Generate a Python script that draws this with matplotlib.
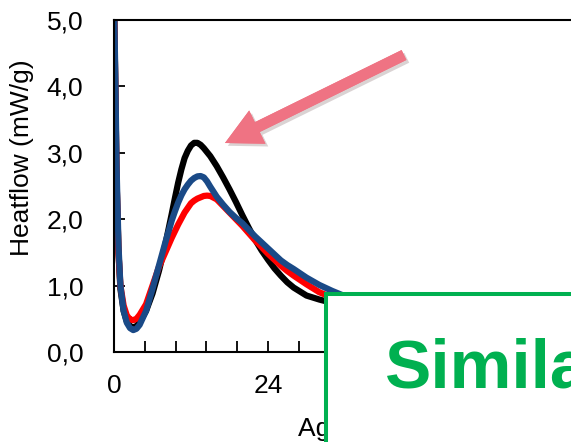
import matplotlib
matplotlib.use("Agg")
import matplotlib.pyplot as plt
import matplotlib.patheffects as pe
from matplotlib.patches import FancyArrow, Rectangle
from matplotlib.transforms import IdentityTransform

plt.rcParams['font.family'] = ['Liberation Sans', 'DejaVu Sans']

# data (hours, mW/g)
t = [0, 0.2, 0.4, 0.7, 1.0, 1.5, 2.0, 2.5, 3.0, 3.5, 4, 5, 6, 7, 8, 9, 9.5, 10,
     10.5, 11, 11.5, 12, 12.5, 13, 13.5, 14, 14.5, 15, 16, 17, 18, 19, 20, 21,
     22, 23, 24, 25, 26, 27, 28, 30, 32, 34, 36, 40]
black = [5.3, 4.0, 2.6, 1.5, 0.95, 0.62, 0.46, 0.39, 0.37, 0.39, 0.45, 0.62, 0.88,
         1.22, 1.62, 2.08, 2.32, 2.55, 2.75, 2.92, 3.03, 3.11, 3.15, 3.15, 3.12,
         3.07, 3.01, 2.95, 2.8, 2.63, 2.45, 2.26, 2.06, 1.87, 1.69, 1.53, 1.39,
         1.26, 1.15, 1.05, 0.97, 0.85, 0.79, 0.74, 0.68, 0.57]
red = [5.3, 4.0, 2.6, 1.5, 1.0, 0.7, 0.55, 0.49, 0.48, 0.5, 0.56, 0.72, 1.0,
       1.28, 1.5, 1.72, 1.82, 1.92, 2.01, 2.1, 2.17, 2.24, 2.28, 2.31, 2.33,
       2.35, 2.355, 2.35, 2.3, 2.2, 2.1, 2.0, 1.9, 1.79, 1.68, 1.58, 1.48, 1.39,
       1.3, 1.22, 1.15, 1.02, 0.9, 0.82, 0.75, 0.63]
blue = [5.3, 4.2, 2.8, 1.6, 1.0, 0.62, 0.44, 0.36, 0.33, 0.35, 0.41, 0.62, 0.95,
        1.3, 1.65, 1.98, 2.12, 2.25, 2.36, 2.45, 2.52, 2.58, 2.62, 2.645, 2.65,
        2.63, 2.57, 2.49, 2.34, 2.22, 2.11, 2.02, 1.94, 1.84, 1.74, 1.65, 1.56,
        1.47, 1.38, 1.31, 1.25, 1.12, 1.01, 0.92, 0.84, 0.7]

yticks = [0, 1, 2, 3, 4, 5]
ytick_labels = ["0,0", "1,0", "2,0", "3,0", "4,0", "5,0"]
xticks = [0, 24]
xminor = [4.8 * i for i in range(16)]

fig = plt.figure(figsize=(5.71, 4.42), dpi=100)
ax = fig.add_axes([114 / 571, 90 / 442, 462 / 571, 332 / 442])

ax.plot(t, black, color="black", lw=4.5, solid_joinstyle="round")
ax.plot(t, red, color="#ff0000", lw=4.5, solid_joinstyle="round")
ax.plot(t, blue, color="#1a4a87", lw=4.5, solid_joinstyle="round")

ax.set_xlim(0, 72)
ax.set_ylim(0, 5)
ax.set_yticks(yticks)
ax.set_yticklabels(ytick_labels)
ax.set_xticks(xticks)
ax.set_xticks(xminor, minor=True)
ax.tick_params(axis="both", which="both", direction="in", length=8, width=1.3,
               labelsize=19)
ax.tick_params(axis="y", pad=22)
ax.tick_params(axis="x", pad=16)
for s in ax.spines.values():
    s.set_linewidth(1.5)

ax.set_ylabel("Heatflow (mW/g)", fontsize=19)
ax.yaxis.set_label_coords(22 / 571, 284 / 442, transform=fig.transFigure)
ax.yaxis.label.set_va("center")
ax.set_xlabel("Age (h)", fontsize=19)
ax.xaxis.set_label_coords(298 / 571, 6 / 442, transform=fig.transFigure)
ax.xaxis.label.set_ha("left")
ax.xaxis.label.set_va("baseline")

# pink arrow (pixel coordinates)
arrow = FancyArrow(404, 387, -179, -88, width=11, head_width=37, head_length=36,
                   length_includes_head=True, color="#ef7383", lw=0,
                   transform=IdentityTransform(), zorder=10)
arrow.set_path_effects([pe.withSimplePatchShadow(offset=(2, -2), alpha=0.2),
                        pe.Normal()])
fig.add_artist(arrow)

# green box
box = Rectangle((326, -10), 300, 158, facecolor="white", edgecolor="#00b050",
                lw=2.9, transform=IdentityTransform(), zorder=10)
fig.add_artist(box)
fig.text(385, 54, "Similar", color="#00b050", fontsize=50, fontweight="bold",
         va="baseline", ha="left", transform=IdentityTransform(), zorder=11)

fig.savefig("out.png", dpi=100)
